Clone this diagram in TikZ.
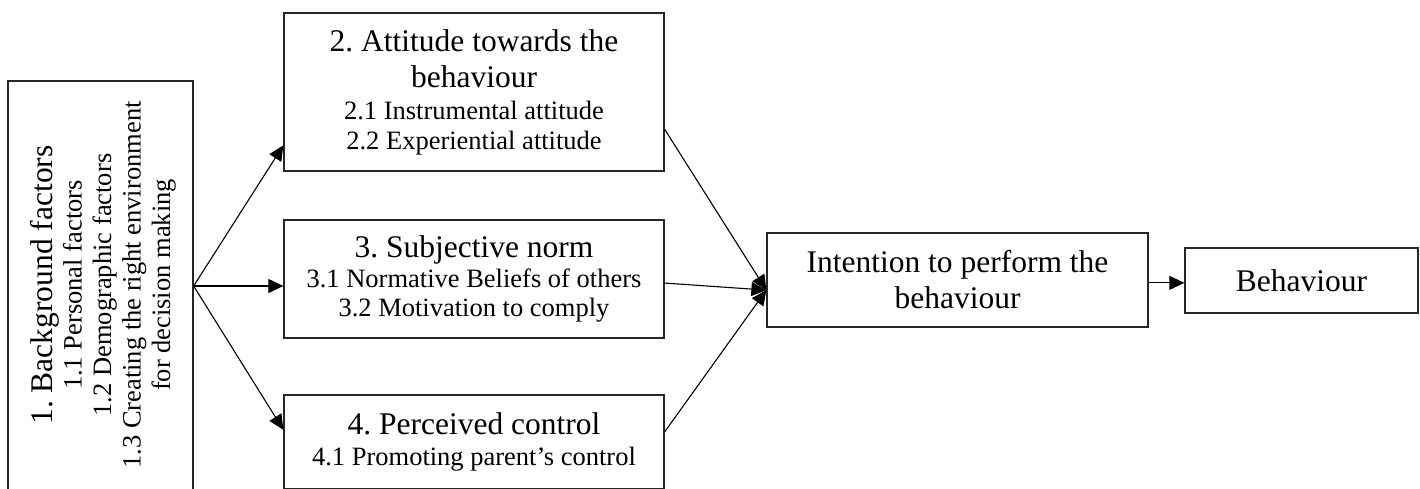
\documentclass[tikz,border=0pt]{standalone}
\usepackage{fontspec}
\setmainfont{Liberation Serif}
\usetikzlibrary{arrows.meta,calc}
\frenchspacing
\newcommand\ttlfnt{\fontsize{31.5}{36}\selectfont\spaceskip=0pt\xspaceskip=0pt\relax}
\newcommand\subfnt{\fontsize{26.5}{29.5}\selectfont\spaceskip=0pt\xspaceskip=0pt\relax}
\begin{document}
\begin{tikzpicture}[x=1pt,y=-1pt,
  box/.style={draw=black!85,line width=1.3pt,rectangle,inner sep=0pt},
  txt/.style={inner sep=0pt},
  arr/.style={draw=black,line width=1.1pt,-{Triangle[length=15pt,width=14pt]}}]
\useasboundingbox[fill=white] (0,0) rectangle (1420,488);
% left box
\node[box,minimum width=185pt,minimum height=410pt] (bg) at (100.5,286) {};
\node[txt,rotate=90,text width=400pt] (bgt) at (103,285)
  {\centering\ttlfnt 1. Background factors\par
   \subfnt 1.1 Personal factors\\ 1.2 Demographic factors\\
   1.3 Creating the right environment\\ for decision making\par};
% middle boxes
\node[box,minimum width=380pt,minimum height=158pt,text width=370pt] (att) at (474,92)
  {\centering\ttlfnt 2. Attitude towards the\\ behaviour\par\vspace{3pt}
   \subfnt 2.1 Instrumental attitude\\ 2.2 Experiential attitude\par};
\node[box,minimum width=380pt,minimum height=118pt,text width=370pt] (sub) at (474,279)
  {\centering\ttlfnt 3. Subjective norm\par
   \subfnt 3.1 Normative Beliefs of others\\ 3.2 Motivation to comply\par};
\node[box,minimum width=380pt,minimum height=94pt,text width=370pt] (per) at (474,442)
  {\centering\ttlfnt 4. Perceived control\par\vspace{2pt}
   \subfnt 4.1 Promoting parent's control\par};
% right boxes
\node[box,minimum width=381pt,minimum height=94pt,text width=370pt] (int) at (957.5,280)
  {\centering\ttlfnt Intention to perform the\\ behaviour\par};
\node[box,minimum width=233pt,minimum height=65pt,text width=225pt] (beh) at (1301.5,280.5)
  {\centering\ttlfnt Behaviour\par};
% connectors
\draw[arr] (bg.east) -- ($(att.south west)!0.165!(att.north west)$);
\draw[arr] (bg.east) -- (bg.east -| sub.west);
\draw[arr] (bg.east) -- ($(per.north west)!0.372!(per.south west)$);
\coordinate (tip) at ($(int.north west)!0.606!(int.south west)$);
\draw[arr] ($(att.north east)!0.734!(att.south east)$) -- (tip);
\draw[arr] ($(sub.north east)!0.534!(sub.south east)$) -- (tip);
\draw[arr] ($(per.north east)!0.394!(per.south east)$) -- (tip);
\coordinate (ie) at ($(int.north east)!0.53!(int.south east)$);
\draw[arr] (ie) -- (ie -| beh.west);
\end{tikzpicture}
\end{document}
